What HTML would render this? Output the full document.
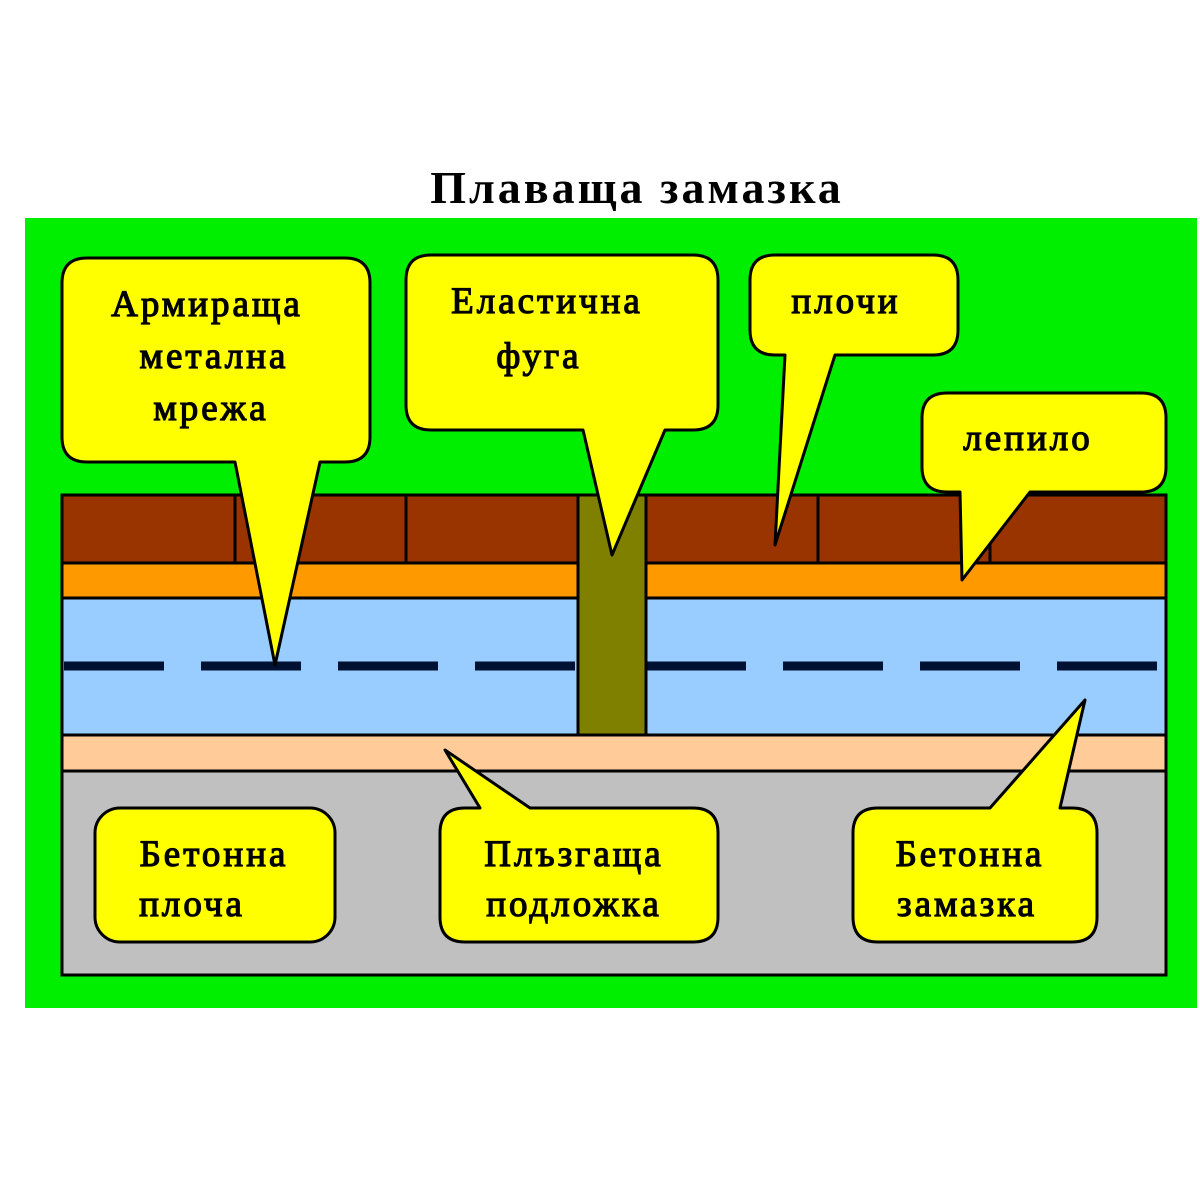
<!DOCTYPE html>
<html><head><meta charset="utf-8"><style>
html,body{margin:0;padding:0;background:#fff;width:1200px;height:1200px;overflow:hidden}
svg text{font-family:"Liberation Serif",serif;fill:#000}
</style></head><body>
<svg width="1200" height="1200" viewBox="0 0 1200 1200" xmlns="http://www.w3.org/2000/svg">
<text x="637" y="203" font-size="46" font-weight="bold" letter-spacing="3" text-anchor="middle">Плаваща замазка</text>
<rect x="25" y="218" width="1172" height="790" fill="#00ee00"/>
<rect x="62" y="495" width="1104" height="68" fill="#993300" stroke="#000" stroke-width="3"/>
<rect x="62" y="563" width="1104" height="35" fill="#ff9900" stroke="#000" stroke-width="3"/>
<rect x="62" y="598" width="1104" height="137" fill="#99ccff" stroke="#000" stroke-width="3"/>
<rect x="62" y="735" width="1104" height="36" fill="#ffcc99" stroke="#000" stroke-width="3"/>
<rect x="62" y="771" width="1104" height="204" fill="#c0c0c0" stroke="#000" stroke-width="3"/>
<line x1="235" y1="495" x2="235" y2="563" stroke="#000" stroke-width="3"/>
<line x1="406" y1="495" x2="406" y2="563" stroke="#000" stroke-width="3"/>
<line x1="818" y1="495" x2="818" y2="563" stroke="#000" stroke-width="3"/>
<line x1="990" y1="495" x2="990" y2="563" stroke="#000" stroke-width="3"/>
<line x1="64" y1="666" x2="578" y2="666" stroke="#001133" stroke-width="9" stroke-dasharray="100 37"/>
<line x1="646" y1="666" x2="1166" y2="666" stroke="#001133" stroke-width="9" stroke-dasharray="100 37"/>
<rect x="578" y="495" width="68" height="240" fill="#808000" stroke="#000" stroke-width="3"/>
<g fill="#ffff00" stroke="#000" stroke-width="3" stroke-linejoin="round">
<path d="M87,258 H345 Q370,258 370,283 V437 Q370,462 345,462 H320 L275,665 L235,462 H87 Q62,462 62,437 V283 Q62,258 87,258 Z"/>
<path d="M431,255 H693 Q718,255 718,280 V405 Q718,430 693,430 H665 L612,555 L583,430 H431 Q406,430 406,405 V280 Q406,255 431,255 Z"/>
<path d="M775,255 H933 Q958,255 958,280 V330 Q958,355 933,355 H835 L775,545 L785,355 H775 Q750,355 750,330 V280 Q750,255 775,255 Z"/>
<path d="M947,393 H1141 Q1166,393 1166,418 V467 Q1166,492 1141,492 H1030 L962,580 L960,492 H947 Q922,492 922,467 V418 Q922,393 947,393 Z"/>
<rect x="95" y="808" width="240" height="134" rx="25"/>
<path d="M465,808 H480 L445,750 L530,808 H693 Q718,808 718,833 V917 Q718,942 693,942 H465 Q440,942 440,917 V833 Q440,808 465,808 Z"/>
<path d="M878,808 H990 L1085,700 L1060,808 H1072 Q1097,808 1097,833 V917 Q1097,942 1072,942 H878 Q853,942 853,917 V833 Q853,808 878,808 Z"/>
</g>
<g font-size="37" stroke="#000" stroke-width="1.2" letter-spacing="3">
<text x="207" y="316" text-anchor="middle">Армираща</text>
<text x="214" y="368" text-anchor="middle">метална</text>
<text x="211" y="420" text-anchor="middle">мрежа</text>
<text x="547" y="313" text-anchor="middle">Еластична</text>
<text x="539" y="368" text-anchor="middle">фуга</text>
<text x="846" y="313" text-anchor="middle">плочи</text>
<text x="1028" y="450" text-anchor="middle">лепило</text>
<text x="214" y="866" text-anchor="middle">Бетонна</text>
<text x="192" y="916" text-anchor="middle">плоча</text>
<text x="574" y="866" text-anchor="middle">Плъзгаща</text>
<text x="574" y="916" text-anchor="middle">подложка</text>
<text x="970" y="866" text-anchor="middle">Бетонна</text>
<text x="967" y="916" text-anchor="middle">замазка</text>
</g>
</svg>
</body></html>
